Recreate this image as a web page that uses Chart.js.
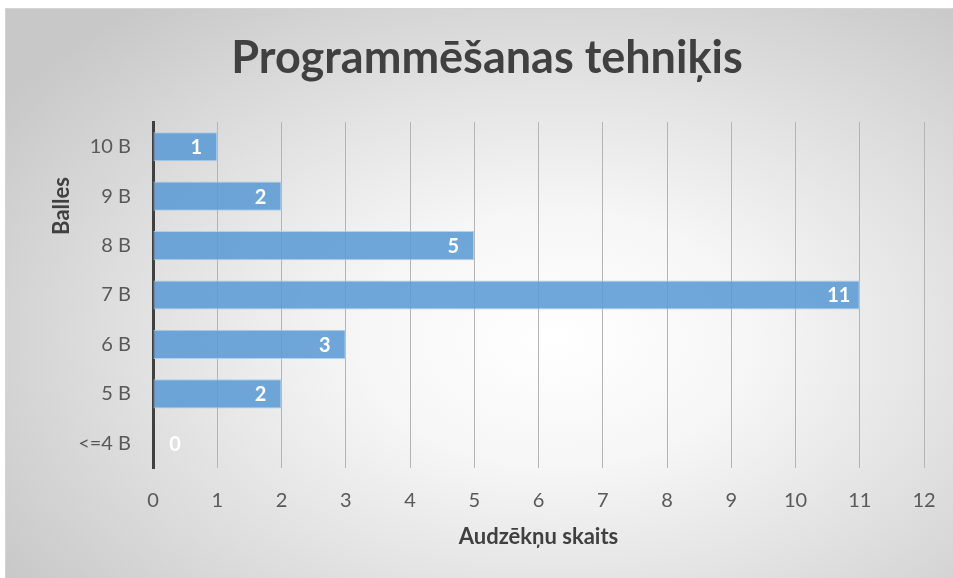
<!DOCTYPE html>
<html>
<head>
<meta charset="utf-8">
<script src="https://cdn.jsdelivr.net/npm/chart.js@4.4.1/dist/chart.umd.min.js"></script>
<style>
  body { margin: 0; background: #fff; }
  #frame {
    position: absolute; left: 5px; top: 8px; width: 947px; height: 569px;
    border: 1px solid #d4d4d4;
    background: radial-gradient(ellipse 70% 75% at 58% 58%, #ffffff 0%, #f6f6f6 30%, #dcdcdc 70%, #c8c8c8 100%);
  }
  #chart { position: absolute; left: 0; top: 0; }
</style>
</head>
<body>
<div id="frame"></div>
<canvas id="chart" width="953" height="578"></canvas>
<script>
const categories = ['10 B', '9 B', '8 B', '7 B', '6 B', '5 B', '<=4 B'];
const students = [1, 2, 5, 11, 3, 2, 0];
const xTicks = [0, 1, 2, 3, 4, 5, 6, 7, 8, 9, 10, 11, 12];

const FONT = 'Lato, "Open Sans", sans-serif';

// value labels inside bar end (white, bold)
const valueLabels = {
    id: 'valueLabels',
    afterDatasetsDraw(chart) {
        const ctx = chart.ctx;
        const meta = chart.getDatasetMeta(0);
        ctx.save();
        ctx.fillStyle = '#ffffff';
        ctx.font = 'bold 20px ' + FONT;
        ctx.textAlign = 'center';
        ctx.textBaseline = 'middle';
        meta.data.forEach((bar, i) => {
            const v = students[i];
            const x = v > 0 ? bar.x - 21 : bar.base + 22;
            ctx.fillText(String(v), x, bar.y + 1);
        });
        ctx.restore();
    }
};

// y axis title placed like the original (not centred on the axis)
const yTitle = {
    id: 'yTitle',
    afterLayout(chart) {
        // centre the main title over the whole frame, like the original
        if (chart.titleBlock) {
            chart.titleBlock.left = 0;
            chart.titleBlock.right = 974;
        }
    },
    afterDraw(chart) {
        const ctx = chart.ctx;
        ctx.save();
        ctx.translate(62, 206);
        ctx.rotate(-Math.PI / 2);
        ctx.fillStyle = '#404040';
        ctx.font = 'bold 22px ' + FONT;
        ctx.textAlign = 'center';
        ctx.textBaseline = 'middle';
        ctx.fillText('Balles', 0, 0);
        ctx.restore();
    }
};

new Chart(document.getElementById('chart'), {
    type: 'bar',
    data: {
        labels: categories,
        datasets: [{
            data: students,
            backgroundColor: 'rgba(91, 155, 213, 0.88)',
            borderColor: 'rgba(170, 205, 235, 0.9)',
            borderWidth: 1,
            borderSkipped: false,
            barPercentage: 0.59,
            categoryPercentage: 1
        }]
    },
    options: {
        indexAxis: 'y',
        responsive: false,
        animation: false,
        layout: { padding: { left: 0, right: 29, top: 0, bottom: 0 } },
        scales: {
            x: {
                min: 0, max: 12,
                afterBuildTicks: (s) => { s.ticks = xTicks.map(v => ({ value: v })); },
                afterFit: (s) => { s.height = 110; },
                grid: { color: '#b4b4b4', lineWidth: 1, drawTicks: true, tickLength: 21, tickColor: 'rgba(0,0,0,0)' },
                border: { display: false },
                ticks: { color: '#595959', font: { family: FONT, size: 20 }, padding: 0 },
                title: {
                    display: true, text: 'Audzēkņu skaits', color: '#404040',
                    font: { family: FONT, size: 22, weight: 'bold' },
                    padding: { top: 0, bottom: 28 }
                }
            },
            y: {
                afterFit: (s) => { s.width = 153; },
                grid: { display: false, drawTicks: false },
                border: { display: true, color: '#404040', width: 3 },
                ticks: { color: '#595959', font: { family: FONT, size: 20 }, padding: 22 }
            }
        },
        plugins: {
            legend: { display: false },
            tooltip: { enabled: false },
            title: {
                display: true,
                text: 'Programmēšanas tehniķis',
                color: '#404040',
                font: { family: FONT, size: 45, weight: 'bold' },
                padding: { top: 31, bottom: 37 }
            }
        }
    },
    plugins: [valueLabels, yTitle]
});
</script>
</body>
</html>
